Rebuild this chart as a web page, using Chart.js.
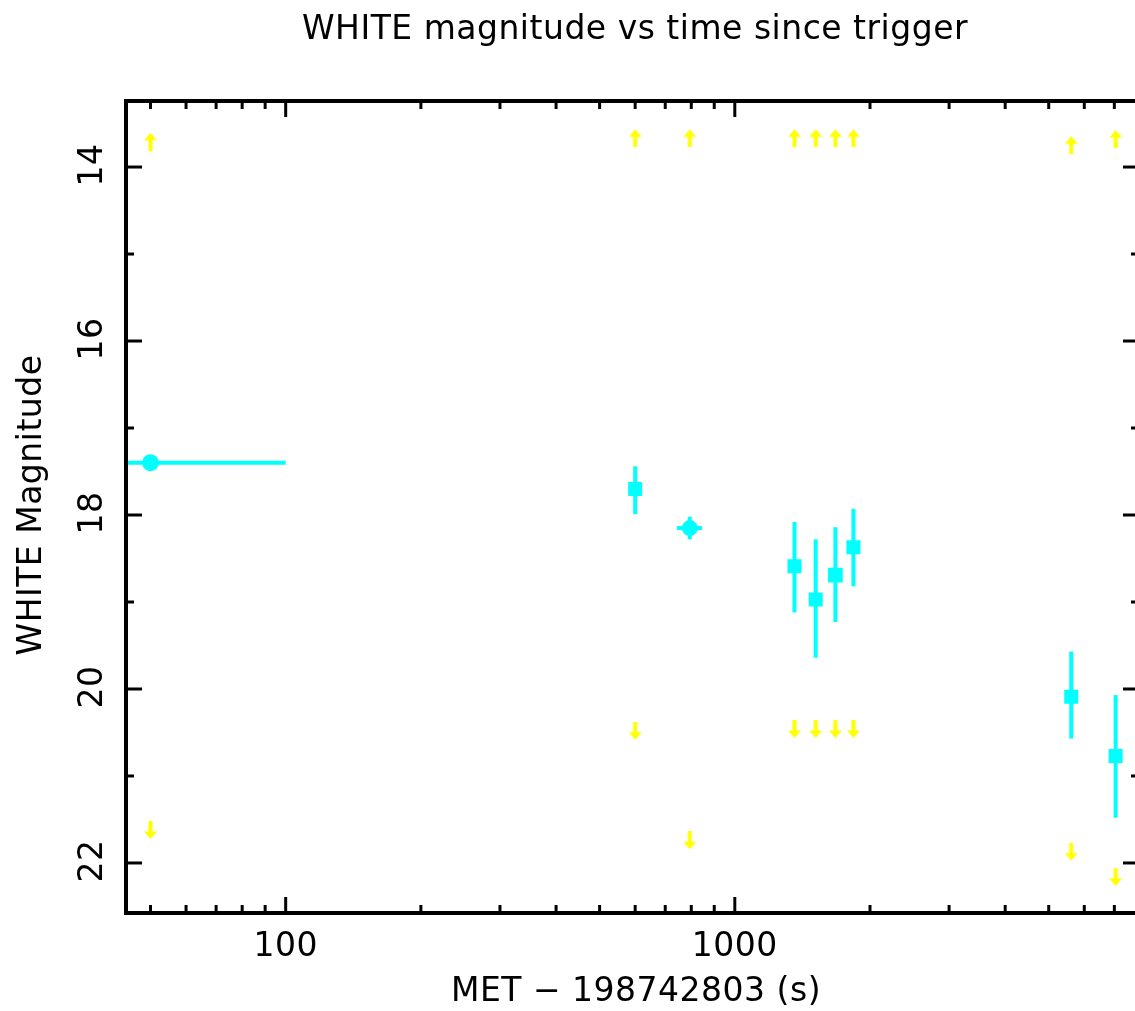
<!DOCTYPE html>
<html><head><meta charset="utf-8">
<script src="https://cdn.jsdelivr.net/npm/chart.js@4/dist/chart.umd.min.js"></script>
<style>
html,body{margin:0;padding:0;background:#fff;overflow:hidden;}
#wrap{position:relative;width:1150px;height:1011px;}
</style></head><body>
<div id="wrap"><canvas id="c"></canvas></div>
<script>
const titleText = 'WHITE magnitude vs time since trigger';
const xTitle = 'MET \u2212 198742803 (s)';
const yTitle = 'WHITE Magnitude';
const xMajorTicks = [100, 1000];
const xMinorTicks = [50,60,70,80,90,200,300,400,500,600,700,800,900,2000,3000,4000,5000,6000,7000];
const yMajorTicks = [14, 16, 18, 20, 22];
const yMinorTicks = [15, 17, 19, 21];

// detections (cyan)
const detTime   = [50,    600,   794,   1358,  1514,  1675,  1837,  5612,  7046];
const detMag    = [17.40, 17.70, 18.15, 18.59, 18.97, 18.69, 18.37, 20.09, 20.77];
const detMagLo  = [17.36, 17.44, 18.02, 18.08, 18.28, 18.14, 17.93, 19.57, 20.07];
const detMagHi  = [17.44, 17.99, 18.28, 19.12, 19.64, 19.23, 18.82, 20.57, 21.48];
const detTimeLo = [40,    null,  743,   null,  null,  null,  null,  null,  null];
const detTimeHi = [100,   null,  845,   null,  null,  null,  null,  null,  null];

// limit arrows (yellow)
const upTime   = [50,    600,   794,   1358,  1514,  1675,  1837,  5612,  7046];
const upMag    = [13.71, 13.67, 13.67, 13.67, 13.67, 13.67, 13.67, 13.75, 13.68];
const downTime = [50,    600,   794,   1358,  1514,  1675,  1837,  5612,  7046];
const downMag  = [21.62, 20.48, 21.74, 20.46, 20.46, 20.46, 20.46, 21.87, 22.16];

const CYAN = '#00ffff', YELLOW = '#ffff00';
const FONT = '"DejaVu Sans", sans-serif';

function arrowImg(up) {
  const c = document.createElement('canvas');
  c.width = 13; c.height = 18;
  const g = c.getContext('2d');
  g.fillStyle = YELLOW;
  if (!up) { g.translate(0, 18); g.scale(1, -1); }
  g.beginPath();
  g.moveTo(6.5, 0); g.lineTo(13, 7.5); g.lineTo(8.5, 7.5); g.lineTo(8.5, 18);
  g.lineTo(4.5, 18); g.lineTo(4.5, 7.5); g.lineTo(0, 7.5); g.closePath();
  g.fill();
  return c;
}

const frame = {
  id: 'frame',
  beforeDatasetsDraw(chart) {
    const {ctx, chartArea: a, scales: {x, y}} = chart;
    ctx.save();
    ctx.beginPath(); ctx.rect(a.left, a.top, a.right - a.left, a.bottom - a.top); ctx.clip();
    ctx.strokeStyle = CYAN; ctx.lineWidth = 4; ctx.lineCap = 'butt';
    for (let i = 0; i < detTime.length; i++) {
      const px = x.getPixelForValue(detTime[i]);
      ctx.beginPath();
      ctx.moveTo(px, y.getPixelForValue(detMagLo[i]));
      ctx.lineTo(px, y.getPixelForValue(detMagHi[i]));
      ctx.stroke();
      if (detTimeLo[i] !== null) {
        const py = y.getPixelForValue(detMag[i]);
        ctx.beginPath();
        ctx.moveTo(x.getPixelForValue(detTimeLo[i]), py);
        ctx.lineTo(x.getPixelForValue(detTimeHi[i]), py);
        ctx.stroke();
      }
    }
    ctx.restore();
  },
  afterDraw(chart) {
    const {ctx, chartArea: a, scales: {x, y}} = chart;
    ctx.save();
    ctx.strokeStyle = '#000';
    ctx.lineWidth = 3;
    const tick = (x1, y1, x2, y2) => { ctx.beginPath(); ctx.moveTo(x1, y1); ctx.lineTo(x2, y2); ctx.stroke(); };
    xMajorTicks.forEach(v => { const p = x.getPixelForValue(v); tick(p, a.bottom, p, a.bottom - 16); tick(p, a.top, p, a.top + 16); });
    xMinorTicks.forEach(v => { const p = x.getPixelForValue(v); tick(p, a.bottom, p, a.bottom - 8); tick(p, a.top, p, a.top + 8); });
    yMajorTicks.forEach(v => { const p = y.getPixelForValue(v); tick(a.left, p, a.left + 16, p); tick(a.right, p, a.right - 16, p); });
    yMinorTicks.forEach(v => { const p = y.getPixelForValue(v); tick(a.left, p, a.left + 8, p); tick(a.right, p, a.right - 8, p); });
    ctx.lineWidth = 4;
    ctx.strokeRect(a.left, a.top, a.right - a.left, a.bottom - a.top);

    ctx.fillStyle = '#000';
    ctx.font = '33px ' + FONT;
    ctx.textAlign = 'center';
    ctx.textBaseline = 'alphabetic';
    ctx.letterSpacing = '0.5px';
    ctx.fillText(titleText, 635, 39);
    xMajorTicks.forEach(v => ctx.fillText(String(v), x.getPixelForValue(v), 956));
    ctx.fillText(xTitle, 636, 1001);
    yMajorTicks.forEach(v => {
      ctx.save();
      ctx.translate(102, y.getPixelForValue(v) - 2);
      ctx.rotate(-Math.PI / 2);
      ctx.fillText(String(v), 0, 0);
      ctx.restore();
    });
    ctx.save();
    ctx.translate(41, 505);
    ctx.rotate(-Math.PI / 2);
    ctx.fillText(yTitle, 0, 0);
    ctx.restore();
    ctx.restore();
  }
};

new Chart(document.getElementById('c'), {
  type: 'scatter',
  data: {
    datasets: [
      {
        label: 'WHITE',
        data: detTime.map((t, i) => ({x: t, y: detMag[i]})),
        pointStyle: ['circle', 'rect', 'circle', 'rect', 'rect', 'rect', 'rect', 'rect', 'rect'],
        pointRadius: [7.5, 8.5, 7, 8.5, 8.5, 9, 8.5, 8.5, 8.5],
        backgroundColor: CYAN,
        borderColor: CYAN,
        borderWidth: 2
      },
      {
        label: 'upper',
        data: upTime.map((t, i) => ({x: t, y: upMag[i]})),
        pointStyle: arrowImg(true),
        pointRadius: 9
      },
      {
        label: 'lower',
        data: downTime.map((t, i) => ({x: t, y: downMag[i]})),
        pointStyle: arrowImg(false),
        pointRadius: 9
      }
    ]
  },
  options: {
    responsive: true,
    maintainAspectRatio: false,
    animation: false,
    layout: {padding: {left: 126, top: 101, right: 9, bottom: 98}},
    plugins: {legend: {display: false}, tooltip: {enabled: false}, title: {display: false}},
    scales: {
      x: {type: 'logarithmic', min: 44.1, max: 7943, display: false},
      y: {type: 'linear', min: 13.241, max: 22.575, reverse: true, display: false}
    }
  },
  plugins: [frame]
});
</script>
</body></html>
